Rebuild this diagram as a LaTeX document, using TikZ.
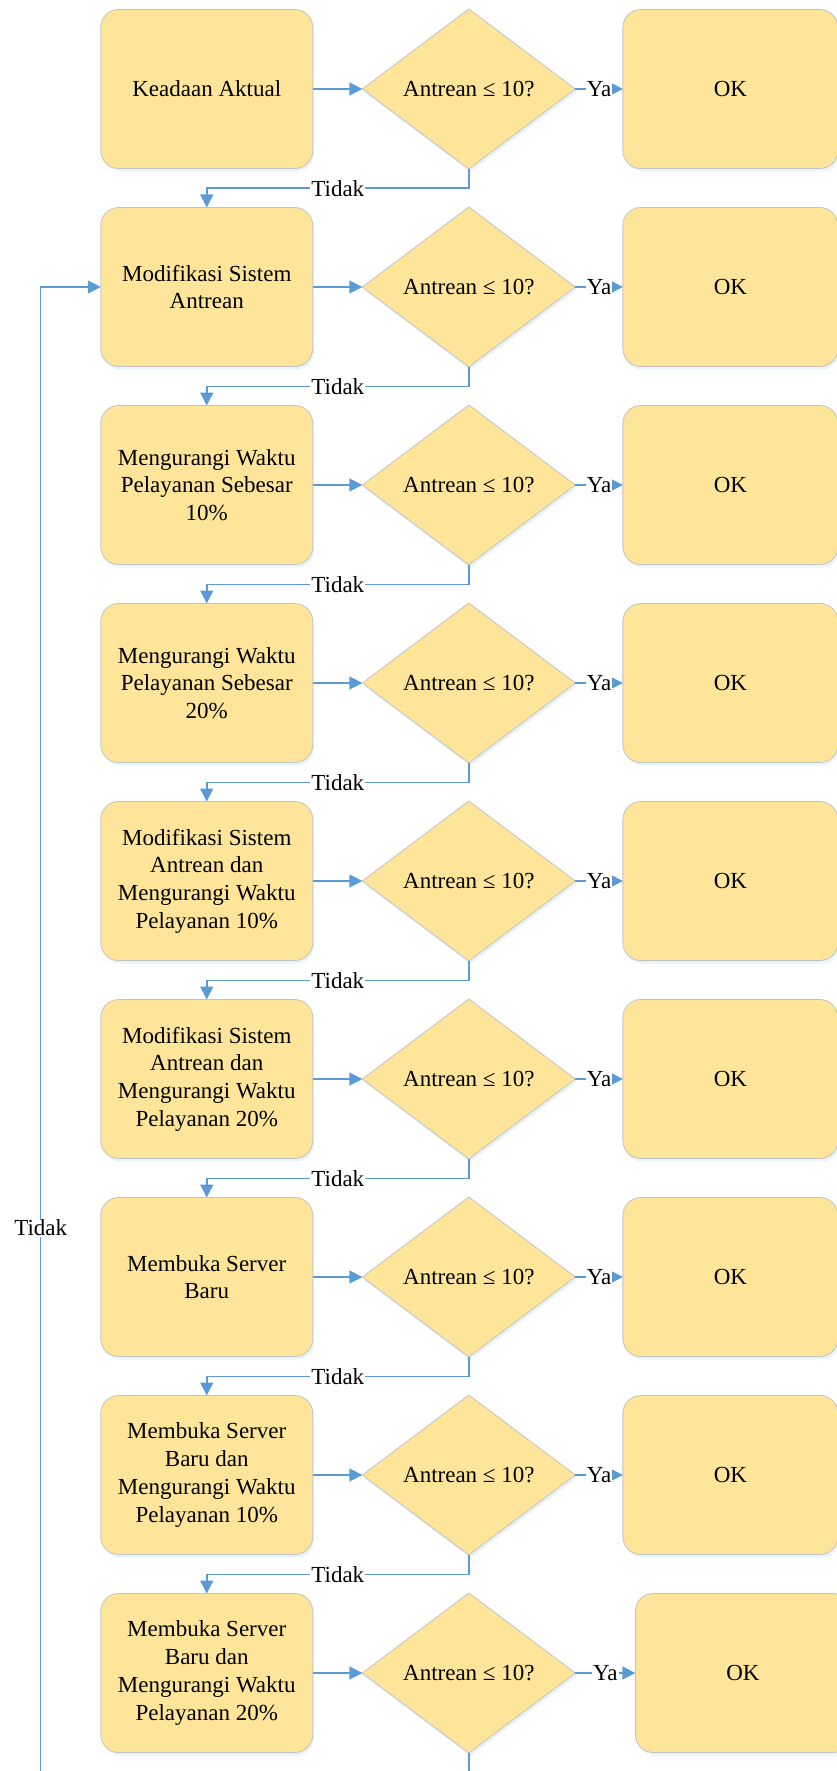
\documentclass[tikz,border=0pt]{standalone}
\usepackage{fontspec}
\setmainfont{Liberation Serif}
\usepackage{tikz}
\usetikzlibrary{positioning,shapes.geometric,arrows.meta,shadows,calc}
\definecolor{kuning}{HTML}{FFE599}
\definecolor{tepi}{HTML}{C3C3C3}
\definecolor{biru}{HTML}{5B9BD5}

\begin{document}
\begin{tikzpicture}[x=1pt,y=1pt,
    font=\fontsize{23}{27.7}\selectfont,
    bayang/.style={drop shadow={shadow xshift=1.5pt,shadow yshift=-3pt,fill=biru!35,opacity=0.35}},
    proses/.style={rectangle,rounded corners=18pt,draw=tepi,line width=0.8pt,fill=kuning,
        minimum width=212pt,minimum height=159pt,align=center,outer sep=0pt,bayang},
    hasil/.style={proses,minimum width=215pt},
    keputusan/.style={diamond,draw=tepi,line width=0.8pt,fill=kuning,aspect=1.33,
        minimum width=213pt,minimum height=160pt,inner sep=0pt,outer sep=0pt,bayang},
    alur/.style={draw=biru,line width=1.5pt,-{Triangle[length=13pt,width=13pt]}},
    garis/.style={draw=biru,line width=1.5pt},
    ket/.style={fill=white,inner sep=1pt}]
    \useasboundingbox (0,0) rectangle (837,-1771);
    \node [proses] (b1) at (206.75,-89) {Keadaan Aktual};
    \node [keputusan, right=49.6pt of b1] (d1) {Antrean ≤ 10?};
    \node [hasil, right=47.5pt of d1] (o1) {OK};
    \node [proses, below=39pt of b1] (b2) {Modifikasi Sistem\\Antrean};
    \node [keputusan, right=49.6pt of b2] (d2) {Antrean ≤ 10?};
    \node [hasil, right=47.5pt of d2] (o2) {OK};
    \node [proses, below=39pt of b2] (b3) {Mengurangi Waktu\\Pelayanan Sebesar\\10\%};
    \node [keputusan, right=49.6pt of b3] (d3) {Antrean ≤ 10?};
    \node [hasil, right=47.5pt of d3] (o3) {OK};
    \node [proses, below=39pt of b3] (b4) {Mengurangi Waktu\\Pelayanan Sebesar\\20\%};
    \node [keputusan, right=49.6pt of b4] (d4) {Antrean ≤ 10?};
    \node [hasil, right=47.5pt of d4] (o4) {OK};
    \node [proses, below=39pt of b4] (b5) {Modifikasi Sistem\\Antrean dan\\Mengurangi Waktu\\Pelayanan 10\%};
    \node [keputusan, right=49.6pt of b5] (d5) {Antrean ≤ 10?};
    \node [hasil, right=47.5pt of d5] (o5) {OK};
    \node [proses, below=39pt of b5] (b6) {Modifikasi Sistem\\Antrean dan\\Mengurangi Waktu\\Pelayanan 20\%};
    \node [keputusan, right=49.6pt of b6] (d6) {Antrean ≤ 10?};
    \node [hasil, right=47.5pt of d6] (o6) {OK};
    \node [proses, below=39pt of b6] (b7) {Membuka Server\\Baru};
    \node [keputusan, right=49.6pt of b7] (d7) {Antrean ≤ 10?};
    \node [hasil, right=47.5pt of d7] (o7) {OK};
    \node [proses, below=39pt of b7] (b8) {Membuka Server\\Baru dan\\Mengurangi Waktu\\Pelayanan 10\%};
    \node [keputusan, right=49.6pt of b8] (d8) {Antrean ≤ 10?};
    \node [hasil, right=47.5pt of d8] (o8) {OK};
    \node [proses, below=39pt of b8] (b9) {Membuka Server\\Baru dan\\Mengurangi Waktu\\Pelayanan 20\%};
    \node [keputusan, right=49.6pt of b9] (d9) {Antrean ≤ 10?};
    \node [hasil, right=60pt of d9] (o9) {OK};
    \coordinate (balik) at (40.7,-1771);
    \coordinate (t1) at ($(d1.south)!0.5!(b2.north)$);
    \coordinate (t2) at ($(d2.south)!0.5!(b3.north)$);
    \coordinate (t3) at ($(d3.south)!0.5!(b4.north)$);
    \coordinate (t4) at ($(d4.south)!0.5!(b5.north)$);
    \coordinate (t5) at ($(d5.south)!0.5!(b6.north)$);
    \coordinate (t6) at ($(d6.south)!0.5!(b7.north)$);
    \coordinate (t7) at ($(d7.south)!0.5!(b8.north)$);
    \coordinate (t8) at ($(d8.south)!0.5!(b9.north)$);
    \draw [alur] (b1) -- (d1);
    \draw [alur] (b2) -- (d2);
    \draw [alur] (b3) -- (d3);
    \draw [alur] (b4) -- (d4);
    \draw [alur] (b5) -- (d5);
    \draw [alur] (b6) -- (d6);
    \draw [alur] (b7) -- (d7);
    \draw [alur] (b8) -- (d8);
    \draw [alur] (b9) -- (d9);
    \draw [alur] (d1) -- node [ket] {Ya} (o1);
    \draw [alur] (d2) -- node [ket] {Ya} (o2);
    \draw [alur] (d3) -- node [ket] {Ya} (o3);
    \draw [alur] (d4) -- node [ket] {Ya} (o4);
    \draw [alur] (d5) -- node [ket] {Ya} (o5);
    \draw [alur] (d6) -- node [ket] {Ya} (o6);
    \draw [alur] (d7) -- node [ket] {Ya} (o7);
    \draw [alur] (d8) -- node [ket] {Ya} (o8);
    \draw [alur] (d9) -- node [ket] {Ya} (o9);
    \draw [alur] (d1.south) |- (t1) node [ket] {Tidak} -| (b2.north);
    \draw [alur] (d2.south) |- (t2) node [ket] {Tidak} -| (b3.north);
    \draw [alur] (d3.south) |- (t3) node [ket] {Tidak} -| (b4.north);
    \draw [alur] (d4.south) |- (t4) node [ket] {Tidak} -| (b5.north);
    \draw [alur] (d5.south) |- (t5) node [ket] {Tidak} -| (b6.north);
    \draw [alur] (d6.south) |- (t6) node [ket] {Tidak} -| (b7.north);
    \draw [alur] (d7.south) |- (t7) node [ket] {Tidak} -| (b8.north);
    \draw [alur] (d8.south) |- (t8) node [ket] {Tidak} -| (b9.north);
    \draw [garis] (d9.south) -- (d9.south |- balik);
    \draw [alur] (balik) |- node [ket, pos=0.183] {Tidak} (b2.west);
\end{tikzpicture}
\end{document}
